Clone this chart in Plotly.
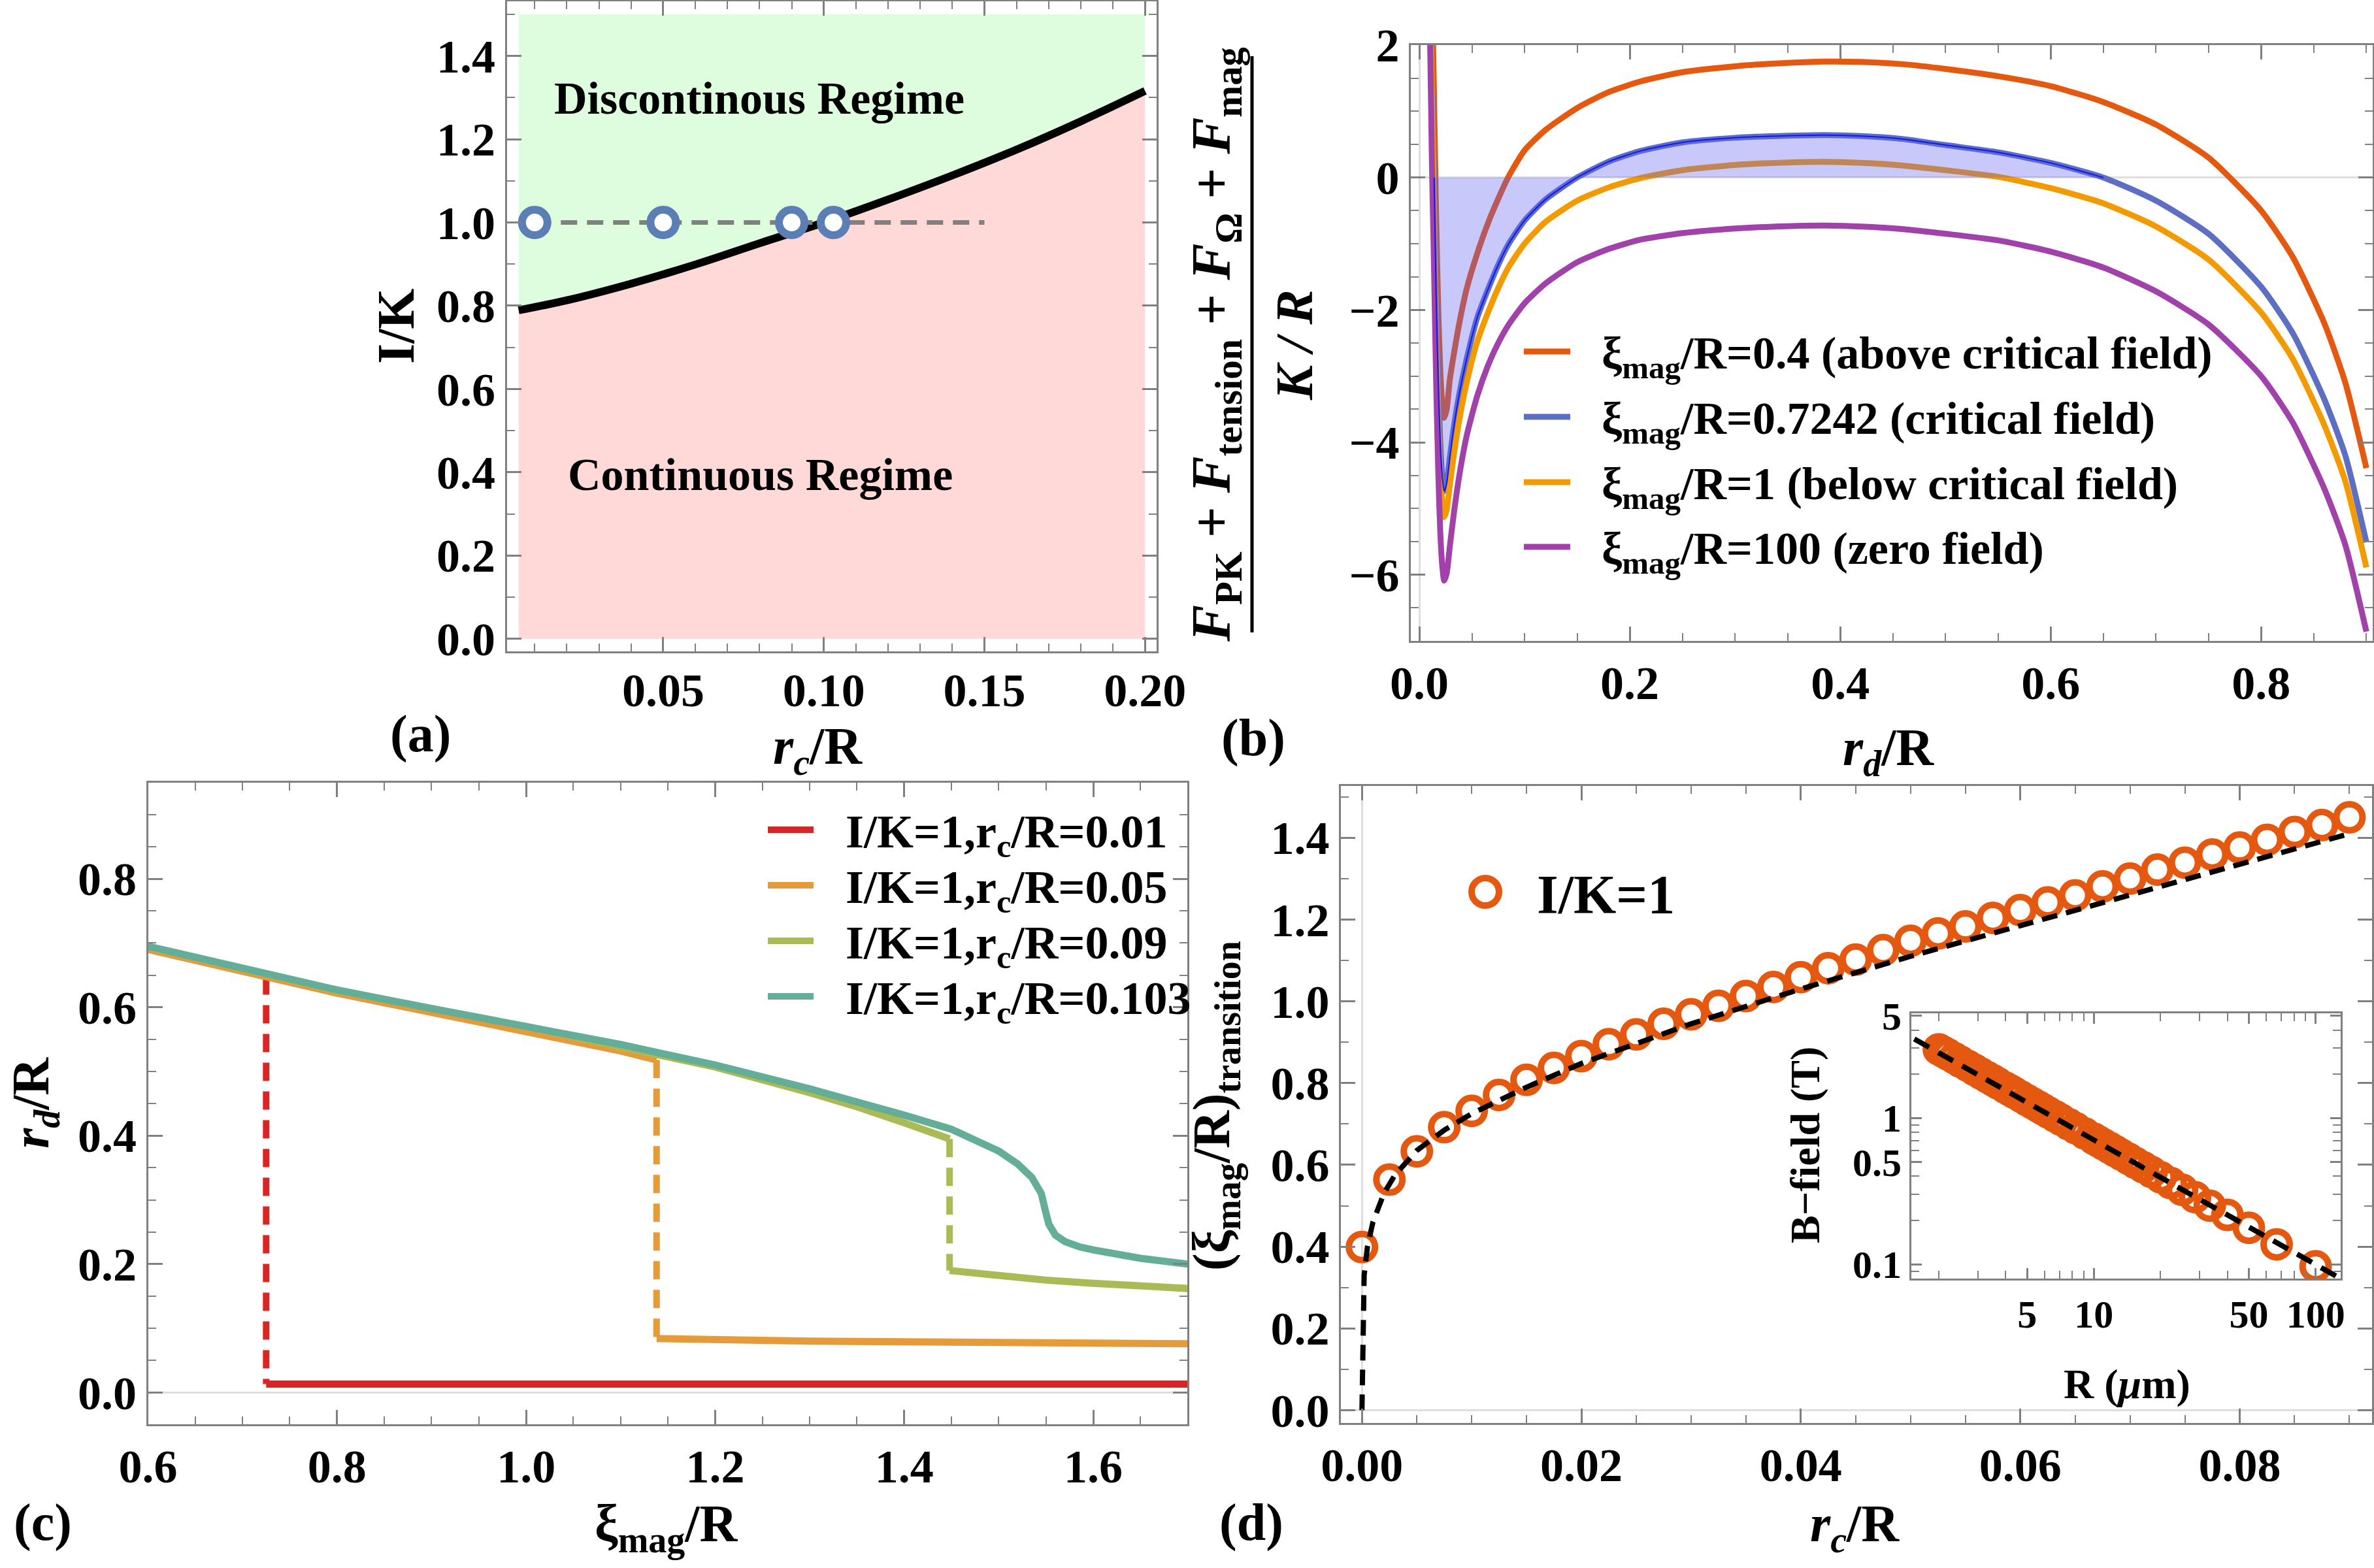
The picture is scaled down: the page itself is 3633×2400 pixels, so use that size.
import plotly.graph_objects as go

W, H = 3633, 2400
FONT = "Liberation Serif"
FRAME = "#808080"
AXIS0 = "#dedede"

# ---------------------------------------------------------------- (a)
a_boundary_x = [0.005, 0.02, 0.04, 0.06, 0.08, 0.10, 0.12, 0.14, 0.16, 0.18, 0.20]
a_boundary_y = [0.789, 0.813, 0.853, 0.899, 0.950, 1.000, 1.055, 1.113, 1.175, 1.243, 1.316]
a_top = 1.5
a_points_x = [0.01, 0.05, 0.09, 0.103]
a_points_y = [1.0, 1.0, 1.0, 1.0]
a_guide_x = [0.01, 0.15]
a_guide_y = [1.0, 1.0]

# ---------------------------------------------------------------- (b)
b_rd = [0.0103, 0.012, 0.014, 0.016, 0.018, 0.02, 0.022, 0.0236, 0.026, 0.029,
        0.033, 0.038, 0.045, 0.055, 0.065, 0.075, 0.085, 0.1, 0.12, 0.15,
        0.18, 0.21, 0.25, 0.3, 0.35, 0.385, 0.42, 0.46, 0.5, 0.55,
        0.6, 0.65, 0.7, 0.75, 0.8, 0.83, 0.86, 0.88, 0.9]
b_xi_04 = [4.5, 3.0, 1.2, -0.6, -2.0, -2.95, -3.45, -3.63, -3.5, -3.05,
           -2.65, -2.2, -1.68, -1.15, -0.7, -0.32, 0.02, 0.41, 0.72, 1.05,
           1.29, 1.45, 1.59, 1.68, 1.73, 1.75, 1.745, 1.71, 1.64, 1.53,
           1.38, 1.14, 0.8, 0.3, -0.5, -1.2, -2.2, -3.1, -4.39]
b_xi_07242 = [3.4, 1.6, 0.0, -1.8, -3.1, -4.05, -4.55, -4.74, -4.62, -4.23,
              -3.75, -3.27, -2.74, -2.12, -1.7, -1.32, -1.0, -0.65, -0.33, 0.0,
              0.24, 0.40, 0.53, 0.60, 0.63, 0.64, 0.625, 0.58, 0.49, 0.38,
              0.22, 0.0, -0.35, -0.85, -1.65, -2.35, -3.35, -4.2, -5.51]
b_xi_1 = [3.0, 1.2, -0.4, -2.2, -3.5, -4.45, -4.95, -5.13, -5.02, -4.64,
          -4.17, -3.66, -3.1, -2.48, -2.05, -1.67, -1.35, -1.0, -0.67, -0.35,
          -0.15, -0.01, 0.11, 0.19, 0.225, 0.235, 0.22, 0.18, 0.11, 0.01,
          -0.16, -0.39, -0.74, -1.24, -2.04, -2.74, -3.74, -4.59, -5.89]
b_xi_100 = [2.0, 0.2, -1.4, -3.1, -4.45, -5.4, -5.9, -6.09, -5.98, -5.57,
            -5.05, -4.5, -3.9, -3.3, -2.85, -2.5, -2.22, -1.9, -1.6, -1.28,
            -1.08, -0.94, -0.84, -0.77, -0.735, -0.727, -0.74, -0.78, -0.85, -0.95,
            -1.12, -1.36, -1.72, -2.22, -3.0, -3.7, -4.7, -5.55, -6.86]
b_names = ["ξ<sub>mag</sub>/R=0.4 (above critical field)",
           "ξ<sub>mag</sub>/R=0.7242 (critical field)",
           "ξ<sub>mag</sub>/R=1 (below critical field)",
           "ξ<sub>mag</sub>/R=100 (zero field)"]
b_colors = ["#E4580F", "#5C6FC3", "#F39A00", "#A141AA"]
b_fill_from, b_fill_to = 2, 32   # stretch of the critical curve between its zeros

# ---------------------------------------------------------------- (c)
c_names = ["I/K=1,r<sub>c</sub>/R=0.01", "I/K=1,r<sub>c</sub>/R=0.05",
           "I/K=1,r<sub>c</sub>/R=0.09", "I/K=1,r<sub>c</sub>/R=0.103"]
c_colors = ["#DC2424", "#E59B3A", "#AABB55", "#63AD99"]
c_upper_x = [
    [0.6, 0.65, 0.7, 0.725],
    [0.6, 0.7, 0.8, 0.9, 1.0, 1.1, 1.138],
    [0.6, 0.8, 1.0, 1.2, 1.3, 1.35, 1.4, 1.43, 1.448],
    [0.6, 0.7, 0.8, 0.9, 1.0, 1.1, 1.2, 1.3, 1.4, 1.45, 1.5, 1.52, 1.535,
     1.545, 1.549, 1.553, 1.56, 1.57, 1.585, 1.6, 1.65, 1.7],
]
c_upper_y = [
    [0.693, 0.675, 0.657, 0.648],
    [0.69, 0.655, 0.622, 0.592, 0.563, 0.532, 0.518],
    [0.694, 0.626, 0.57, 0.507, 0.467, 0.445, 0.42, 0.405, 0.395],
    [0.695, 0.66, 0.627, 0.598, 0.571, 0.542, 0.51, 0.473, 0.432, 0.41, 0.376, 0.356, 0.335,
     0.31, 0.285, 0.262, 0.245, 0.235, 0.227, 0.222, 0.209, 0.2],
]
c_lower_x = [
    [0.725, 1.0, 1.4, 1.7],
    [1.138, 1.2, 1.3, 1.4, 1.5, 1.6, 1.7],
    [1.448, 1.5, 1.55, 1.6, 1.65, 1.7],
    [],
]
c_lower_y = [
    [0.013, 0.013, 0.013, 0.013],
    [0.084, 0.082, 0.08, 0.079, 0.078, 0.077, 0.076],
    [0.19, 0.181, 0.175, 0.17, 0.166, 0.162],
    [],
]

# ---------------------------------------------------------------- (d)
d_rc = [0.0, 0.0025, 0.005, 0.0075, 0.01, 0.0125, 0.015, 0.0175, 0.02, 0.0225,
        0.025, 0.0275, 0.03, 0.0325, 0.035, 0.0375, 0.04, 0.0425, 0.045, 0.0475,
        0.05, 0.0525, 0.055, 0.0575, 0.06, 0.0625, 0.065, 0.0675, 0.07, 0.0725,
        0.075, 0.0775, 0.08, 0.0825, 0.085, 0.0875, 0.09]
d_xi = [0.399, 0.564, 0.633, 0.692, 0.732, 0.771, 0.808, 0.837, 0.866, 0.895,
        0.919, 0.945, 0.968, 0.989, 1.013, 1.035, 1.059, 1.081, 1.102, 1.125,
        1.148, 1.166, 1.183, 1.204, 1.223, 1.242, 1.259, 1.281, 1.300, 1.322,
        1.339, 1.359, 1.376, 1.395, 1.414, 1.431, 1.450]
d_fit_x = [0.0, 0.00005, 0.0002, 0.0005, 0.001, 0.002, 0.003, 0.005, 0.0075, 0.01,
           0.015, 0.02, 0.03, 0.04, 0.05, 0.06, 0.07, 0.08, 0.09]
d_fit_y = [0.0, 0.2, 0.33, 0.40, 0.46, 0.53, 0.575, 0.635, 0.685, 0.725,
           0.79, 0.848, 0.945, 1.03, 1.11, 1.185, 1.26, 1.335, 1.41]

# inset: B-field against R (um)
in_R = [100, 66.7, 50, 40, 33.3, 28.6, 25, 22.2, 20, 18.2, 16.7, 15.4, 14.3, 13.3,
        12.5, 11.8, 11.1, 10.5, 10, 9.1, 8.3, 7.7, 7.1, 6.7, 6.25, 5.9, 5.6, 5.3,
        5.0, 4.7, 4.4, 4.2, 4.0, 3.7, 3.5, 3.3, 3.1, 2.9, 2.7, 2.5, 2.35, 2.2, 2.1, 2.0]
in_B = [0.097, 0.137, 0.178, 0.218, 0.252, 0.288, 0.324, 0.36, 0.394, 0.428, 0.461,
        0.494, 0.528, 0.562, 0.594, 0.625, 0.659, 0.692, 0.722, 0.785, 0.851, 0.908,
        0.975, 1.026, 1.089, 1.146, 1.2, 1.259, 1.324, 1.399, 1.483, 1.545, 1.61,
        1.725, 1.811, 1.905, 2.015, 2.136, 2.275, 2.431, 2.566, 2.718, 2.831, 2.95]
in_fit_R = [1.55, 12, 127]
in_fit_B = [3.47, 0.61, 0.0814]

ORANGE_D = "#E4580F"


def px(x):
    return x / W


def py(y):
    return 1 - y / H


def tfont(size):
    return dict(family=FONT, size=size, color="black", weight="bold")


def frame_axis(domain, rng, anchor, tickvals, ticktext, minor, size=72, **extra):
    ax = dict(domain=domain, range=rng, anchor=anchor, automargin=False,
              showline=True, linecolor=FRAME, linewidth=3, mirror="ticks",
              ticks="inside", ticklen=22, tickwidth=3, tickcolor=FRAME,
              showgrid=False, zeroline=False,
              tickmode="array", tickvals=tickvals, ticktext=ticktext,
              tickfont=tfont(size),
              minor=dict(ticks="inside", ticklen=12, tickwidth=2,
                         tickcolor=FRAME, showgrid=False, **minor))
    ax.update(extra)
    return ax


fig = go.Figure()

# (a)
fig.add_trace(go.Scatter(x=a_boundary_x, y=a_boundary_y, mode="none", fill="tozeroy",
                         fillcolor="#FFD8D8", line_shape="spline", xaxis="x", yaxis="y"))
fig.add_trace(go.Scatter(x=a_boundary_x, y=[a_top] * len(a_boundary_x), mode="none",
                         fill="tonexty", fillcolor="#DEFDDE", xaxis="x", yaxis="y"))
fig.add_trace(go.Scatter(x=a_boundary_x, y=a_boundary_y, mode="lines",
                         line=dict(color="black", width=12, shape="spline"),
                         xaxis="x", yaxis="y"))
fig.add_trace(go.Scatter(x=a_guide_x, y=a_guide_y, mode="lines",
                         line=dict(color="#808080", width=7, dash="25px,15px"),
                         xaxis="x", yaxis="y"))
fig.add_trace(go.Scatter(x=a_points_x, y=a_points_y, mode="markers",
                         marker=dict(symbol="circle", size=39, color="white",
                                     line=dict(color="#5B7EB5", width=12)),
                         xaxis="x", yaxis="y"))

# (b)
for ys, col in zip([b_xi_04, b_xi_07242, b_xi_1, b_xi_100], b_colors):
    fig.add_trace(go.Scatter(x=b_rd, y=ys, mode="lines",
                             line=dict(color=col, width=9, shape="spline", smoothing=0.6),
                             xaxis="x2", yaxis="y2"))
fig.add_trace(go.Scatter(x=b_rd[b_fill_from:b_fill_to], y=b_xi_07242[b_fill_from:b_fill_to],
                         mode="lines", fill="tozeroy", fillcolor="rgba(98,98,241,0.35)",
                         line=dict(color="#1515F0", width=2, shape="spline", smoothing=0.6),
                         xaxis="x2", yaxis="y2"))

# (c)
for ux, uy, lx, ly, col in zip(c_upper_x, c_upper_y, c_lower_x, c_lower_y, c_colors):
    fig.add_trace(go.Scatter(x=ux, y=uy, mode="lines", line=dict(color=col, width=11),
                             xaxis="x3", yaxis="y3"))
    if lx:
        fig.add_trace(go.Scatter(x=[ux[-1], lx[0]], y=[uy[-1], ly[0]], mode="lines",
                                 line=dict(color=col, width=10, dash="28px,16px"),
                                 xaxis="x3", yaxis="y3"))
        fig.add_trace(go.Scatter(x=lx, y=ly, mode="lines", line=dict(color=col, width=11),
                                 xaxis="x3", yaxis="y3"))

# (d)
fig.add_trace(go.Scatter(x=d_rc, y=d_xi, mode="markers",
                         marker=dict(symbol="circle-open", size=40, color=ORANGE_D,
                                     line=dict(width=10)),
                         xaxis="x4", yaxis="y4"))
fig.add_trace(go.Scatter(x=d_fit_x, y=d_fit_y, mode="lines",
                         line=dict(color="black", width=8, dash="24px,14px"),
                         xaxis="x4", yaxis="y4"))
fig.add_trace(go.Scatter(x=in_R, y=in_B, mode="markers",
                         marker=dict(symbol="circle-open", size=40, color=ORANGE_D,
                                     line=dict(width=10)),
                         xaxis="x5", yaxis="y5"))
fig.add_trace(go.Scatter(x=in_fit_R, y=in_fit_B, mode="lines",
                         line=dict(color="black", width=8, dash="26px,16px"),
                         xaxis="x5", yaxis="y5"))

# ---------------------------------------------------------------- axes
layout = dict(
    width=W, height=H, margin=dict(l=0, r=0, t=0, b=0, autoexpand=False),
    paper_bgcolor="white", plot_bgcolor="white", showlegend=False,
    font=tfont(72),
)
layout["xaxis"] = frame_axis([px(775.5), px(1770)], [0.0013, 0.2036], "y",
                             [0.05, 0.10, 0.15, 0.20], ["0.05", "0.10", "0.15", "0.20"],
                             dict(dtick=0.01, tick0=0), ticklabelstandoff=-6)
layout["yaxis"] = frame_axis([py(997.4), py(2.2)], [-0.031, 1.531], "x",
                             [0, 0.2, 0.4, 0.6, 0.8, 1.0, 1.2, 1.4],
                             ["0.0", "0.2", "0.4", "0.6", "0.8", "1.0", "1.2", "1.4"],
                             dict(dtick=0.1, tick0=0))
layout["xaxis2"] = frame_axis([px(2159), px(3631)], [-0.0081, 0.906], "y2",
                              [0, 0.2, 0.4, 0.6, 0.8], ["0.0", "0.2", "0.4", "0.6", "0.8"],
                              dict(dtick=0.05, tick0=0),
                              zeroline=True, zerolinecolor=AXIS0, zerolinewidth=3)
layout["yaxis2"] = frame_axis([py(981), py(69)], [-7.0, 2.0], "x2",
                              [-6, -4, -2, 0, 2], ["−6", "−4", "−2", "0", "2"],
                              dict(dtick=0.5, tick0=0),
                              zeroline=True, zerolinecolor=AXIS0, zerolinewidth=3)
layout["xaxis3"] = frame_axis([px(226.5), px(1817)], [0.6, 1.6995], "y3",
                              [0.6, 0.8, 1.0, 1.2, 1.4, 1.6],
                              ["0.6", "0.8", "1.0", "1.2", "1.4", "1.6"],
                              dict(dtick=0.05, tick0=0))
layout["yaxis3"] = frame_axis([py(2180), py(1197.8)], [-0.0495, 0.95], "x3",
                              [0, 0.2, 0.4, 0.6, 0.8], ["0.0", "0.2", "0.4", "0.6", "0.8"],
                              dict(dtick=0.05, tick0=0),
                              zeroline=True, zerolinecolor=AXIS0, zerolinewidth=3)
layout["xaxis4"] = frame_axis([px(2052), px(3630)], [-0.00192, 0.09206], "y4",
                              [0, 0.02, 0.04, 0.06, 0.08],
                              ["0.00", "0.02", "0.04", "0.06", "0.08"],
                              dict(dtick=0.005, tick0=0),
                              zeroline=True, zerolinecolor=AXIS0, zerolinewidth=3)
layout["yaxis4"] = frame_axis([py(2178), py(1202.6)], [-0.0313, 1.5273], "x4",
                              [0, 0.2, 0.4, 0.6, 0.8, 1.0, 1.2, 1.4],
                              ["0.0", "0.2", "0.4", "0.6", "0.8", "1.0", "1.2", "1.4"],
                              dict(dtick=0.1, tick0=0),
                              zeroline=True, zerolinecolor=AXIS0, zerolinewidth=3)
layout["xaxis5"] = frame_axis([px(2925), px(3582)], [0.177, 2.113], "y5",
                              [5, 10, 50, 100], ["5", "10", "50", "100"],
                              dict(tickmode="array",
                                   tickvals=[2, 3, 4, 6, 7, 8, 9, 20, 30, 40, 60, 70, 80, 90]),
                              size=60, type="log", ticklen=16)
layout["yaxis5"] = frame_axis([py(1957), py(1551)], [-1.097, 0.716], "x5",
                              [0.1, 0.5, 1, 5], ["0.1", "0.5", "1", "5"],
                              dict(tickmode="array",
                                   tickvals=[0.09, 0.2, 0.3, 0.4, 0.6, 0.7, 0.8, 0.9, 2, 3, 4]),
                              size=60, type="log", ticklen=16)


def label(text, x, y, size, angle=0, xanchor="center"):
    return dict(text=text, x=px(x), y=py(y), xref="paper", yref="paper",
                showarrow=False, textangle=angle, xanchor=xanchor, yanchor="middle",
                font=tfont(size))


ann = [
    # (a)
    label("Discontinous Regime", 1162, 150, 70),
    label("Continuous Regime", 1163, 726, 70),
    label("I/K", 606, 499, 80, angle=-90),
    label("<i>r<sub>c</sub></i>/R", 1251, 1148, 80),
    label("(a)", 643, 1124, 80),
    # (b)
    label("<i>F</i><sub>PK</sub> + <i>F</i><sub>tension</sub> + <i>F</i><sub>Ω</sub>"
          " + <i>F</i><sub>mag</sub>", 1860, 527, 84, angle=-90),
    label("<i>K / R</i>", 1981, 528, 80, angle=-90),
    label("(b)", 1918, 1129, 80),
    label("<i>r<sub>d</sub></i>/R", 2890, 1150, 80),
    # (c)
    label("<i>r<sub>d</sub></i>/R", 53, 1688, 80, angle=-90),
    label("(c)", 65, 2330, 80),
    label("ξ<sub>mag</sub>/R", 1020, 2338, 80),
    # (d)
    label("(ξ<sub>mag</sub>/R)<sub>transition</sub>", 1860, 1692, 80, angle=-90),
    label("(d)", 1915, 2330, 80),
    label("<i>r<sub>c</sub></i>/R", 2838, 2338, 80),
    label("B−field (T)", 2762, 1753, 64, angle=-90),
    label("R (<i>μ</i>m)", 3255, 2118, 64),
    label("I/K=1", 2350, 1369, 84, xanchor="left"),
]

shapes = [dict(type="line", xref="paper", yref="paper", x0=px(1916), x1=px(1916),
               y0=py(968), y1=py(86), line=dict(color="black", width=5))]

for row, name, col in zip([538, 638, 738, 837], b_names, b_colors):
    shapes.append(dict(type="line", xref="paper", yref="paper", x0=px(2332), x1=px(2403),
                       y0=py(row), y1=py(row), line=dict(color=col, width=9)))
    ann.append(label(name, 2449, row + 8, 70, xanchor="left"))

for row, name, col in zip([1270, 1355, 1440, 1525], c_names, c_colors):
    shapes.append(dict(type="line", xref="paper", yref="paper", x0=px(1175), x1=px(1245),
                       y0=py(row), y1=py(row), line=dict(color=col, width=10)))
    ann.append(label(name, 1292, row + 8, 72, xanchor="left"))

shapes.append(dict(type="circle", xref="paper", yref="paper",
                   x0=px(2273 - 21), x1=px(2273 + 21), y0=py(1365 + 21), y1=py(1365 - 21),
                   line=dict(color=ORANGE_D, width=10)))

layout["annotations"] = ann
layout["shapes"] = shapes
fig.update_layout(**layout)

fig.write_html("out.html", config={"displayModeBar": False},
               post_script="document.body.style.margin='0px';")
